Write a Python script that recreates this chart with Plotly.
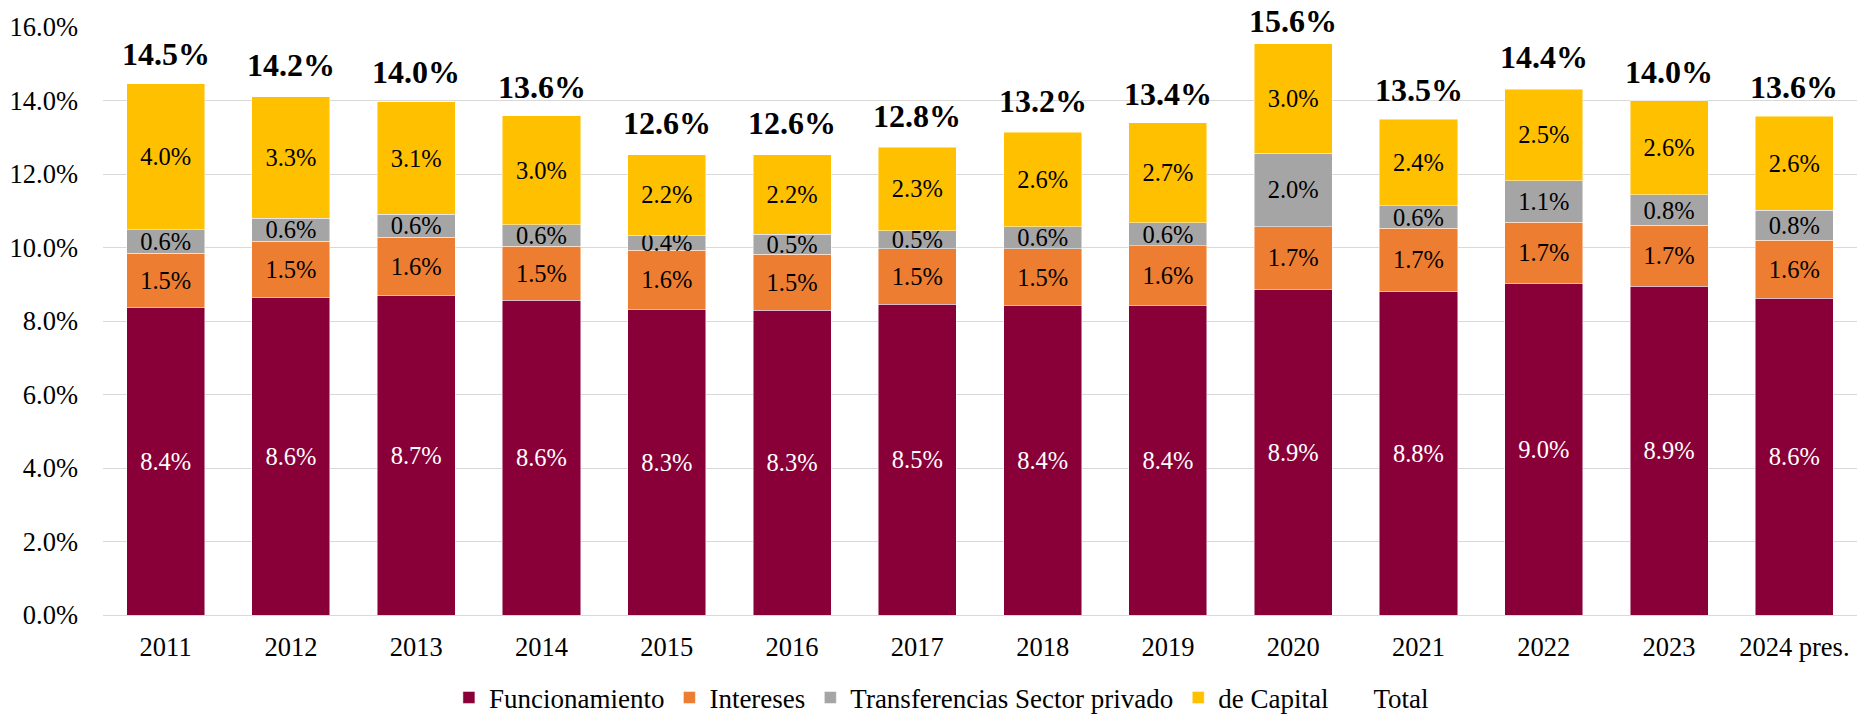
import plotly.graph_objects as go

# años y componentes del gasto (% del PIB)
anios = ['2011', '2012', '2013', '2014', '2015', '2016', '2017', '2018',
         '2019', '2020', '2021', '2022', '2023', '2024 pres.']
funcionamiento = [8.37, 8.63, 8.69, 8.57, 8.32, 8.29, 8.46, 8.43, 8.43, 8.87, 8.80, 9.03, 8.94, 8.62]
intereses = [1.48, 1.54, 1.59, 1.46, 1.60, 1.53, 1.51, 1.53, 1.62, 1.70, 1.72, 1.66, 1.66, 1.58]
transferencias = [0.63, 0.63, 0.62, 0.59, 0.41, 0.54, 0.49, 0.61, 0.63, 1.99, 0.61, 1.13, 0.83, 0.81]
capital = [3.97, 3.30, 3.06, 2.96, 2.20, 2.17, 2.27, 2.57, 2.71, 2.98, 2.36, 2.49, 2.56, 2.56]
total = [14.5, 14.2, 14.0, 13.6, 12.6, 12.6, 12.8, 13.2, 13.4, 15.6, 13.5, 14.4, 14.0, 13.6]

FUENTE = 'Liberation Serif'
ALTO, MARGEN_SUP, MARGEN_INF = 714, 27, 99
Y_MAX = 16

series = [
    ('Funcionamiento', funcionamiento, '#890038', 'white'),
    ('Intereses', intereses, '#ED7D31', 'black'),
    ('Transferencias Sector privado', transferencias, '#A5A5A5', 'black'),
    ('de Capital', capital, '#FFC000', 'black'),
]

fig = go.Figure()
for nombre, valores, color, color_texto in series:
    fig.add_trace(go.Bar(
        x=anios, y=valores, name=nombre,
        marker=dict(color=color, line=dict(color='rgba(255,255,255,0.6)', width=0.8)),
        text=[f'{v:.1f}%' for v in valores],
        textposition='inside', insidetextanchor='middle', textangle=0,
        textfont=dict(family=FUENTE, size=24.5, color=color_texto),
    ))

# serie "Total": marcadores invisibles, solo para la leyenda
fig.add_trace(go.Scatter(x=anios, y=total, mode='markers', name='Total',
                         marker=dict(color='rgba(0,0,0,0)', size=10), hoverinfo='skip'))

# etiquetas del total (x como índice de categoría: '2011' se leería como índice 2011)
px_por_unidad = (ALTO - MARGEN_SUP - MARGEN_INF) / Y_MAX
for i, t in enumerate(total):
    dist_arriba = MARGEN_SUP + (Y_MAX - t) * px_por_unidad
    fig.add_annotation(x=i, y=t, text=f'<b>{t:.1f}%</b>', showarrow=False,
                       yshift=min(28.5, dist_arriba - 21),
                       font=dict(family=FUENTE, size=32, color='black'))

fig.update_layout(
    width=1857, height=ALTO,
    barmode='stack', bargap=0.377,
    plot_bgcolor='white', paper_bgcolor='white',
    margin=dict(l=103, r=0, t=MARGEN_SUP, b=MARGEN_INF, autoexpand=False),
    font=dict(family=FUENTE, size=26.5, color='black'),
    uniformtext=dict(minsize=24.5, mode='show'),
    legend=dict(orientation='h', x=0.478, xanchor='center', y=-0.141, yanchor='middle',
                font=dict(family=FUENTE, size=27), traceorder='normal'),
)
fig.update_yaxes(range=[0, Y_MAX], dtick=2, tickformat='.1f', ticksuffix='%',
                 gridcolor='#D9D9D9', gridwidth=1.3, zeroline=True, zerolinecolor='#D9D9D9',
                 zerolinewidth=1.3, ticklabelstandoff=24)
fig.update_xaxes(type='category', range=[-0.5, len(anios) - 0.5],
                 showline=False, ticklabelstandoff=13)

# sin el margen por defecto del <body>, para que la figura ocupe justo la ventana
fig.write_html('out.html', config={'displayModeBar': False},
               post_script="document.body.style.margin = '0';")
